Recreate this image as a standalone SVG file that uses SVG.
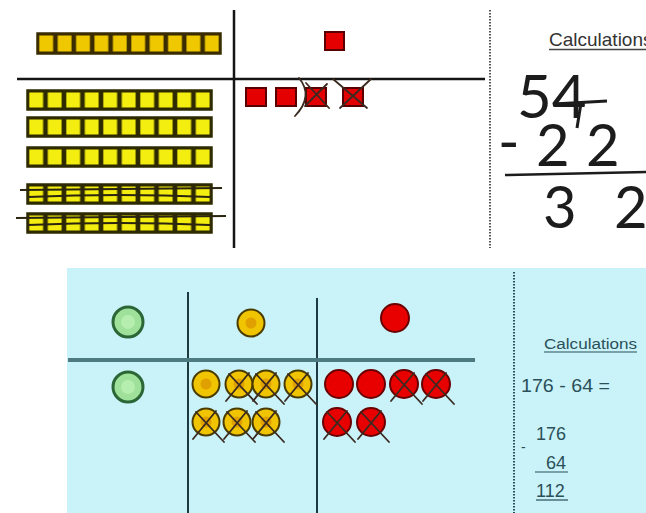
<svg xmlns="http://www.w3.org/2000/svg" xmlns:xlink="http://www.w3.org/1999/xlink" width="646" height="513" viewBox="0 0 646 513">
<style>
.rule{stroke:#151515;stroke-width:2.5;fill:none}
.dash{stroke:#555;stroke-width:2;stroke-dasharray:1.5 1.5;fill:none}
.hand{font-family:"Lato","DejaVu Sans",sans-serif;font-weight:400;fill:#1c1c1c}
.lbl{font-family:"Liberation Sans",Arial,sans-serif;fill:#333}
.blbl{font-family:"Liberation Sans",Arial,sans-serif;fill:#2b4f58}
.strike{stroke:#2a2410;stroke-width:1.8;fill:none}
.rsq{fill:#e40000;stroke:#5a0000;stroke-width:2}
.bvert{stroke:#1d3a40;stroke-width:2;fill:none}
.x{stroke:#3a2a20;stroke-width:1.8;fill:none;stroke-linecap:round}
.ul{stroke:#2b4f58;stroke-width:1.2}
</style>
<defs>
<pattern id="rodGold" patternUnits="objectBoundingBox" width="0.1" height="1" patternContentUnits="userSpaceOnUse">
<rect x="0" y="0" width="19" height="22" fill="#3a2c00"/>
<rect x="2.3" y="2.5" width="13.8" height="16" fill="#f0c800"/>
</pattern>
<pattern id="rodLemon" patternUnits="objectBoundingBox" width="0.1" height="1" patternContentUnits="userSpaceOnUse">
<rect x="0" y="0" width="19" height="22" fill="#2e2a00"/>
<rect x="2.3" y="2.5" width="13.8" height="15" fill="#f4ee10"/>
</pattern>
<g id="ycirc">
<circle r="13.5" fill="#f0c400" stroke="#4a3c00" stroke-width="2"/>
<circle r="5.5" fill="#e0a000"/>
</g>
<g id="rcirc">
<circle r="14" fill="#e80000" stroke="#6a0000" stroke-width="2"/>
</g>
<g id="gcirc">
<circle r="15" fill="#9fe09a" stroke="#2a6636" stroke-width="3"/>
<circle r="7" fill="#b6eeb0"/>
</g>
<path id="xm" class="x" d="M-10,-10 L18,20 M10,-11 L-13,17"/>
</defs>

<!-- top section -->
<g id="top-board">
<line class="rule" x1="17" y1="79" x2="485" y2="79"/>
<line class="rule" x1="234" y1="10" x2="234" y2="248"/>
<line class="dash" x1="490" y1="10" x2="490" y2="248"/>
</g>

<g id="tens-top">
<rect x="37" y="33" width="184" height="21" fill="url(#rodGold)" stroke="#3a2c00" stroke-width="1.5"/>
</g>
<g id="tens-bottom">
<rect x="27" y="90" width="185" height="20" fill="url(#rodLemon)" stroke="#2e2a00" stroke-width="1.5"/>
<rect x="27" y="117" width="185" height="20" fill="url(#rodLemon)" stroke="#2e2a00" stroke-width="1.5"/>
<rect x="27" y="147" width="185" height="20" fill="url(#rodLemon)" stroke="#2e2a00" stroke-width="1.5"/>
<rect x="27" y="184" width="185" height="20" fill="url(#rodLemon)" stroke="#2e2a00" stroke-width="1.5"/>
<rect x="27" y="213" width="185" height="20" fill="url(#rodLemon)" stroke="#2e2a00" stroke-width="1.5"/>
<path class="strike" d="M20,190 L222,188 M28,197 Q120,193 210,197"/>
<path class="strike" d="M16,218 L226,216 M28,225 Q120,221 210,225"/>
</g>

<g id="ones-top">
<rect class="rsq" x="325" y="32" width="19" height="18"/>
</g>
<g id="ones-bottom">
<rect class="rsq" x="246" y="88" width="20" height="18"/>
<rect class="rsq" x="276" y="88" width="20" height="18"/>
<rect class="rsq" x="306" y="88" width="20" height="18"/>
<rect class="rsq" x="343" y="88" width="20" height="18"/>
<path class="x" d="M306,83 L329,108 M327,84 L305,106 M299,78 Q314,96 295,116"/>
<path class="x" d="M333,79 L367,108 M371,79 L340,108"/>
</g>

<g id="calc-top">
<text class="lbl" x="549" y="46" font-size="19">Calculations</text>
<line x1="549" y1="49.5" x2="646" y2="49.5" stroke="#444" stroke-width="1.3"/>
<text class="hand" x="517" y="118" font-size="60">54</text>
<path d="M554,104 L607,101 M581,103 L577,128" stroke="#1c1c1c" stroke-width="3" fill="none"/>
<text class="hand" font-size="58" x="498" y="162">-</text>
<text class="hand" font-size="58" x="536 586" y="166">22</text>
<line x1="505" y1="175" x2="646" y2="172" stroke="#1c1c1c" stroke-width="2.5"/>
<text class="hand" font-size="58" x="543 614" y="228">32</text>
</g>

<!-- bottom section -->
<g id="bottom-board">
<rect x="67" y="268" width="579" height="245" fill="#c9f3f9"/>
<line class="bvert" x1="188" y1="292" x2="188" y2="513"/>
<line class="bvert" x1="317" y1="298" x2="317" y2="513"/>
<line x1="68" y1="360" x2="475" y2="360" stroke="#4d7a80" stroke-width="4"/>
<line x1="514" y1="272" x2="514" y2="513" stroke="#2b4f58" stroke-width="2" stroke-dasharray="1.5 1.5"/>
</g>

<g id="hundreds">
<use xlink:href="#gcirc" x="128" y="322"/>
<use xlink:href="#gcirc" x="128" y="387"/>
</g>

<g id="tens-circles">
<use xlink:href="#ycirc" x="251" y="323"/>
<use xlink:href="#ycirc" x="206" y="384"/>
<use xlink:href="#ycirc" x="239" y="384"/>
<use xlink:href="#ycirc" x="266" y="384"/>
<use xlink:href="#ycirc" x="298" y="384"/>
<use xlink:href="#ycirc" x="206" y="422"/>
<use xlink:href="#ycirc" x="237" y="422"/>
<use xlink:href="#ycirc" x="266" y="422"/>
<use xlink:href="#xm" x="239" y="384"/>
<use xlink:href="#xm" x="266" y="384"/>
<use xlink:href="#xm" x="298" y="384"/>
<use xlink:href="#xm" x="206" y="422"/>
<use xlink:href="#xm" x="237" y="422"/>
<use xlink:href="#xm" x="266" y="422"/>
</g>

<g id="ones-circles">
<use xlink:href="#rcirc" x="395" y="318"/>
<use xlink:href="#rcirc" x="339" y="384"/>
<use xlink:href="#rcirc" x="371" y="384"/>
<use xlink:href="#rcirc" x="404" y="384"/>
<use xlink:href="#rcirc" x="436" y="384"/>
<use xlink:href="#rcirc" x="337" y="422"/>
<use xlink:href="#rcirc" x="371" y="422"/>
<use xlink:href="#xm" x="404" y="384"/>
<use xlink:href="#xm" x="436" y="384"/>
<use xlink:href="#xm" x="337" y="422"/>
<use xlink:href="#xm" x="371" y="422"/>
</g>

<g id="calc-bottom">
<text class="blbl" x="544" y="349" font-size="14" textLength="93" lengthAdjust="spacingAndGlyphs">Calculations</text>
<line class="ul" x1="544" y1="352" x2="637" y2="352"/>
<text class="blbl" x="521" y="392" font-size="18" textLength="89" lengthAdjust="spacingAndGlyphs">176 - 64 =</text>
<text class="blbl" x="536" y="440" font-size="18">176</text>
<text class="blbl" x="521" y="452" font-size="14">-</text>
<text class="blbl" x="546" y="469" font-size="18">64</text>
<line class="ul" x1="535" y1="472" x2="568" y2="472"/>
<text class="blbl" x="536" y="497" font-size="18">112</text>
<line class="ul" x1="536" y1="500" x2="568" y2="500"/>
</g>
</svg>
